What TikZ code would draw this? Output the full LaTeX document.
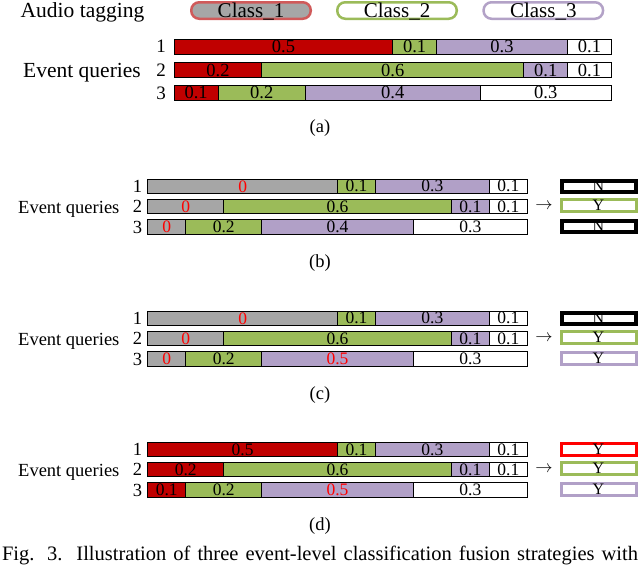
\documentclass[tikz,border=0pt]{standalone}
\usepackage{fontspec}
\setmainfont{Liberation Serif}
\usetikzlibrary{positioning}

\definecolor{barred}{HTML}{C00000}
\definecolor{bargreen}{HTML}{9BBB59}
\definecolor{barpurple}{HTML}{B1A0C7}
\definecolor{bargray}{HTML}{A6A6A6}
\definecolor{tagred}{HTML}{D05A5A}
\definecolor{taggreen}{HTML}{9BBB59}
\definecolor{tagpurple}{HTML}{B3A2C7}
\definecolor{numred}{HTML}{FF0000}

\tikzset{
  txtA/.style={font=\fontsize{21.5pt}{24pt}\selectfont, inner sep=0pt},
  txtB/.style={font=\fontsize{18.5pt}{21pt}\selectfont, inner sep=0pt},
  numA/.style={font=\fontsize{19pt}{21pt}\selectfont, inner sep=0pt},
  segA/.style={draw, fill=#1, line width=1pt, inner sep=0pt, outer sep=0pt,
    minimum height=15.5pt, font=\fontsize{18.5pt}{18pt}\selectfont},
  segB/.style={draw, fill=#1, line width=1pt, inner sep=0pt, outer sep=0pt,
    minimum height=14.5pt, font=\fontsize{17.5pt}{18pt}\selectfont},
  tag/.style={draw=#1, fill=white, line width=2.5pt, rounded corners=8pt,
    minimum width=119.5pt, minimum height=16.5pt, inner sep=0pt,
    text height=14pt, text depth=0pt, font=\fontsize{21pt}{21pt}\selectfont},
  res/.style={draw=#1, fill=white, line width=3pt, minimum width=75pt,
    minimum height=12pt, inner sep=0pt, font=\fontsize{16pt}{16pt}\selectfont},
  resk/.style={res=black, line width=4pt, minimum width=74pt, minimum height=11pt},
}
\newcommand{\zero}{\textcolor{numred}{0}}

\begin{document}
\begin{tikzpicture}[x=1pt, y=-1pt]
  \useasboundingbox (0,0) rectangle (640,565);

  % (a) 音频标签
  \node[txtA, anchor=base] (at) at (82.5,17) {Audio tagging};
  \node[tag=tagred, fill=bargray] (c1) at (251,10.5) {Class\_1};
  \node[tag=taggreen] (c2) at (397,10.5) {Class\_2};
  \node[tag=tagpurple] (c3) at (543.3,10.5) {Class\_3};

  % (a) 事件查询
  \node[txtA, anchor=base] (eqa) at (82,77.5) {Event queries};
  \node[numA, anchor=base] (na1) at (161,52) {1};
  \node[numA, anchor=base] (na2) at (161,76.5) {2};
  \node[numA, anchor=base] (na3) at (161,99) {3};
  % 第1行
  \node[segA=barred, minimum width=218.5pt, anchor=west] (a11) at (174.3,46.8) {0.5};
  \node[segA=bargreen, minimum width=43.7pt, right=0pt of a11] (a12) {0.1};
  \node[segA=barpurple, minimum width=131.1pt, right=0pt of a12] (a13) {0.3};
  \node[segA=white, minimum width=43.7pt, right=0pt of a13] (a14) {0.1};
  % 第2行
  \node[segA=barred, minimum width=87.4pt, anchor=west] (a21) at (174.3,70.2) {0.2};
  \node[segA=bargreen, minimum width=262.2pt, right=0pt of a21] (a22) {0.6};
  \node[segA=barpurple, minimum width=43.7pt, right=0pt of a22] (a23) {0.1};
  \node[segA=white, minimum width=43.7pt, right=0pt of a23] (a24) {0.1};
  % 第3行
  \node[segA=barred, minimum width=43.7pt, anchor=west] (a31) at (174.3,92.8) {0.1};
  \node[segA=bargreen, minimum width=87.4pt, right=0pt of a31] (a32) {0.2};
  \node[segA=barpurple, minimum width=174.8pt, right=0pt of a32] (a33) {0.4};
  \node[segA=white, minimum width=131.1pt, right=0pt of a33] (a34) {0.3};
  \node[txtB] (la) at (320,128) {(a)};

  % (b)
  \node[txtB, anchor=base] (eqb) at (68.8,213) {Event queries};
  \node[txtB, anchor=base] (nb1) at (137.5,192) {1};
  \node[txtB, anchor=base] (nb2) at (137.5,212.5) {2};
  \node[txtB, anchor=base] (nb3) at (137.5,233) {3};
  \node[segB=bargray, minimum width=189.75pt, anchor=west] (b11) at (147.8,186.3) {\zero};
  \node[segB=bargreen, minimum width=37.95pt, right=0pt of b11] (b12) {0.1};
  \node[segB=barpurple, minimum width=113.85pt, right=0pt of b12] (b13) {0.3};
  \node[segB=white, minimum width=37.95pt, right=0pt of b13] (b14) {0.1};
  \node[segB=bargray, minimum width=75.9pt, anchor=west] (b21) at (147.8,206.7) {\zero};
  \node[segB=bargreen, minimum width=227.7pt, right=0pt of b21] (b22) {0.6};
  \node[segB=barpurple, minimum width=37.95pt, right=0pt of b22] (b23) {0.1};
  \node[segB=white, minimum width=37.95pt, right=0pt of b23] (b24) {0.1};
  \node[segB=bargray, minimum width=37.95pt, anchor=west] (b31) at (147.8,227) {\zero};
  \node[segB=bargreen, minimum width=75.9pt, right=0pt of b31] (b32) {0.2};
  \node[segB=barpurple, minimum width=151.8pt, right=0pt of b32] (b33) {0.4};
  \node[segB=white, minimum width=113.85pt, right=0pt of b33] (b34) {0.3};
  \node[txtB, font=\fontsize{16pt}{16pt}\selectfont] (arb) at (544,206) {$\rightarrow$};
  \node[resk] (rb1) at (598.5,186) {N};
  \node[res=bargreen] (rb2) at (598.5,205.5) {Y};
  \node[resk] (rb3) at (598.5,226.3) {N};
  \node[txtB] (lb) at (320,263) {(b)};

  % (c)
  \node[txtB, anchor=base] (eqc) at (68.8,345) {Event queries};
  \node[txtB, anchor=base] (nc1) at (137.5,324) {1};
  \node[txtB, anchor=base] (nc2) at (137.5,344.5) {2};
  \node[txtB, anchor=base] (nc3) at (137.5,365) {3};
  \node[segB=bargray, minimum width=189.75pt, anchor=west] (c11) at (147.8,318.3) {\zero};
  \node[segB=bargreen, minimum width=37.95pt, right=0pt of c11] (c12) {0.1};
  \node[segB=barpurple, minimum width=113.85pt, right=0pt of c12] (c13) {0.3};
  \node[segB=white, minimum width=37.95pt, right=0pt of c13] (c14) {0.1};
  \node[segB=bargray, minimum width=75.9pt, anchor=west] (c21) at (147.8,338.7) {\zero};
  \node[segB=bargreen, minimum width=227.7pt, right=0pt of c21] (c22) {0.6};
  \node[segB=barpurple, minimum width=37.95pt, right=0pt of c22] (c23) {0.1};
  \node[segB=white, minimum width=37.95pt, right=0pt of c23] (c24) {0.1};
  \node[segB=bargray, minimum width=37.95pt, anchor=west] (c31) at (147.8,359) {\zero};
  \node[segB=bargreen, minimum width=75.9pt, right=0pt of c31] (c32) {0.2};
  \node[segB=barpurple, minimum width=151.8pt, right=0pt of c32] (c33) {\textcolor{numred}{0.5}};
  \node[segB=white, minimum width=113.85pt, right=0pt of c33] (c34) {0.3};
  \node[txtB, font=\fontsize{16pt}{16pt}\selectfont] (arc) at (544,338) {$\rightarrow$};
  \node[resk] (rc1) at (598.5,318) {N};
  \node[res=bargreen] (rc2) at (598.5,337.5) {Y};
  \node[res=barpurple] (rc3) at (598.5,358.3) {Y};
  \node[txtB] (lc) at (320,395) {(c)};

  % (d)
  \node[txtB, anchor=base] (eqd) at (68.8,476) {Event queries};
  \node[txtB, anchor=base] (nd1) at (137.5,455) {1};
  \node[txtB, anchor=base] (nd2) at (137.5,475.5) {2};
  \node[txtB, anchor=base] (nd3) at (137.5,496) {3};
  \node[segB=barred, minimum width=189.75pt, anchor=west] (d11) at (147.8,449.3) {0.5};
  \node[segB=bargreen, minimum width=37.95pt, right=0pt of d11] (d12) {0.1};
  \node[segB=barpurple, minimum width=113.85pt, right=0pt of d12] (d13) {0.3};
  \node[segB=white, minimum width=37.95pt, right=0pt of d13] (d14) {0.1};
  \node[segB=barred, minimum width=75.9pt, anchor=west] (d21) at (147.8,469.7) {0.2};
  \node[segB=bargreen, minimum width=227.7pt, right=0pt of d21] (d22) {0.6};
  \node[segB=barpurple, minimum width=37.95pt, right=0pt of d22] (d23) {0.1};
  \node[segB=white, minimum width=37.95pt, right=0pt of d23] (d24) {0.1};
  \node[segB=barred, minimum width=37.95pt, anchor=west] (d31) at (147.8,490) {0.1};
  \node[segB=bargreen, minimum width=75.9pt, right=0pt of d31] (d32) {0.2};
  \node[segB=barpurple, minimum width=151.8pt, right=0pt of d32] (d33) {\textcolor{numred}{0.5}};
  \node[segB=white, minimum width=113.85pt, right=0pt of d33] (d34) {0.3};
  \node[txtB, font=\fontsize{16pt}{16pt}\selectfont] (ard) at (544,469) {$\rightarrow$};
  \node[res=numred] (rd1) at (598.5,449) {Y};
  \node[res=bargreen] (rd2) at (598.5,468.5) {Y};
  \node[res=barpurple] (rd3) at (598.5,489.3) {Y};
  \node[txtB] (ld) at (320,526) {(d)};

  % 图注
  \node[font=\fontsize{20.5pt}{22pt}\selectfont, inner sep=0pt, anchor=base] (cap) at (320,560)
    {\makebox[636pt][s]{Fig. 3.\ \ Illustration of three event-level classification fusion strategies with}};
\end{tikzpicture}
\end{document}
